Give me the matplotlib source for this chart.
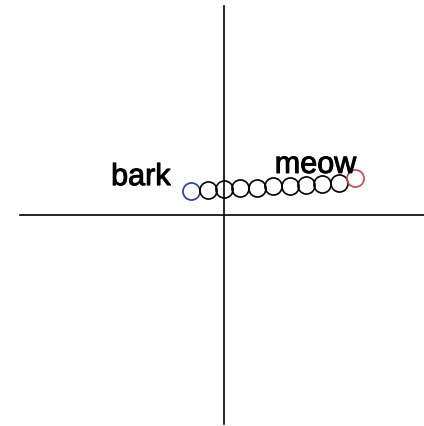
import matplotlib
matplotlib.use("Agg")
import matplotlib.pyplot as plt
import matplotlib.patheffects as pe

# Data
x_vals = [-2, -1, 0, 1, 2, 3, 4, 5, 6, 7, 8]
y_vals = [1.46, 1.52, 1.59, 1.63, 1.66, 1.74, 1.77, 1.83, 1.86, 1.95, 2.26]
point_colors = ["#2a3aa8"] + ["black"] * 9 + ["#c24a4a"]
labels = ["bark", "meow"]

scale = 16.4  # pixels per data unit
W, H = 424, 426
x0_px, y0_px = 224, 215  # origin pixel (from top-left)

fig = plt.figure(figsize=(W / 100, H / 100), dpi=100)
ax = fig.add_axes([0, 0, 1, 1])
ax.set_xlim(-x0_px / scale, (W - x0_px) / scale)
ax.set_ylim(-(H - y0_px) / scale, y0_px / scale)

for s in ["top", "right"]:
    ax.spines[s].set_visible(False)
ax.spines["left"].set_position(("data", 0))
ax.spines["bottom"].set_position(("data", 0))
ax.spines["left"].set_bounds(-(424 - y0_px) / scale, (y0_px - 6) / scale)
ax.spines["bottom"].set_bounds(-(x0_px - 20) / scale, (W - x0_px) / scale)
for s in ["left", "bottom"]:
    ax.spines[s].set_linewidth(1.2)
    ax.spines[s].set_color("black")
ax.set_xticks([])
ax.set_yticks([])
ax.patch.set_visible(False)

for xv, yv, c in zip(x_vals, y_vals, point_colors):
    ax.plot([xv], [yv], marker="o", markersize=12.3, markerfacecolor="none",
            markeredgecolor=c, markeredgewidth=1.2, linestyle="none")

font = dict(family=["Liberation Sans", "DejaVu Sans"], size=22, color="black")
thick = [pe.withStroke(linewidth=0.7, foreground="black")]
ax.annotate(labels[0], xy=(x_vals[0], y_vals[0]), xytext=(-15, 4.3),
            textcoords="offset points", ha="right", va="baseline",
            path_effects=thick, **font)
ax.annotate(labels[1], xy=(x_vals[-1], y_vals[-1]), xytext=(0.5, 3.6),
            textcoords="offset points", ha="right", va="baseline",
            path_effects=thick, **font)

fig.savefig("out.png", dpi=100)
